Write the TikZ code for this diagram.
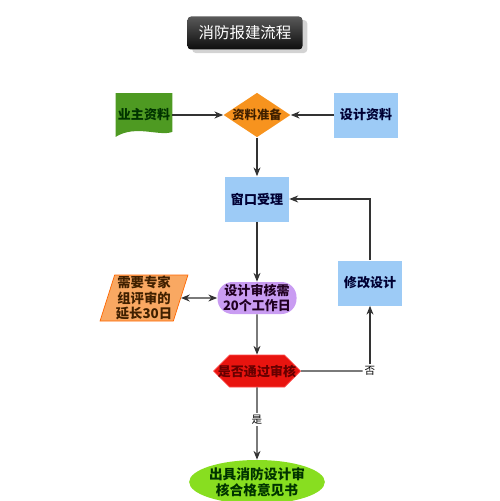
\documentclass[tikz,border=0pt]{standalone}
\usepackage{fontspec}
\setmainfont{Noto Sans CJK SC}
\usepackage{tikz}
\usetikzlibrary{arrows.meta,positioning,shapes.geometric,shapes.symbols,shadows}

\definecolor{linegray}{HTML}{333333}
\definecolor{docgreen}{HTML}{4E9A22}
\definecolor{preporange}{HTML}{F7931E}
\definecolor{boxblue}{HTML}{9DCBF6}
\definecolor{reviewpurple}{HTML}{C99CF2}
\definecolor{slantorange}{HTML}{F9A862}
\definecolor{hexred}{HTML}{E8140F}
\definecolor{okgreen}{HTML}{88DE20}

\begin{document}
\begin{tikzpicture}[node distance=2cm,on grid,
    font=\fontsize{7.4}{9}\selectfont\bfseries,
    >={Stealth[length=5pt,width=4pt]}]
  \tikzstyle{every node}=[align=center]
  \tikzstyle{bluebox}=[rectangle,fill=boxblue,text=black!80!blue,
                       minimum width=1.28cm,minimum height=0.9cm]
  \tikzstyle{flow}=[draw=linegray,line width=0.7pt]

  \useasboundingbox (0,0) rectangle (10,-10.02);

  \node[rounded corners=2pt,top color=black!65,bottom color=black!95,
        drop shadow={opacity=0.35,shadow yshift=-2pt},text=white,
        minimum width=2.3cm,minimum height=0.66cm,
        font=\fontsize{8.8}{10}\selectfont] (title) at (4.9,-0.66) {消防报建流程};

  \node[diamond,fill=preporange,text=black!75!orange,inner sep=0pt,aspect=1.5,
        font=\fontsize{7}{8}\selectfont\bfseries] (prep) at (5.14,-2.3) {资料准备};
  % document shape drawn behind its text
  \node[minimum width=1.12cm,minimum height=0.86cm] (owner) [left=2.26cm of prep] {};
  \fill[docgreen] (owner.north west) -- (owner.north east) -- ([yshift=0.1cm]owner.south east)
     .. controls +(-0.25,-0.1) and +(0.4,0.25) .. (owner.south west) -- cycle;
  \node[text=black!80!green] at (owner.center) {业主资料};
  \node[bluebox] (design) [right=2.18cm of prep] {设计资料};
  \node[bluebox] (window) [below=1.68cm of prep] {窗口受理};
  \node[rectangle,rounded corners=0.3cm,fill=reviewpurple,text=black!75!violet,
        minimum width=1.58cm,minimum height=0.64cm,inner sep=1pt] (review)
        [below=1.98cm of window] {设计审核需\\20个工作日};
  \node[trapezium,trapezium stretches=true,trapezium left angle=72,trapezium right angle=108,
        fill=slantorange,draw=orange!80!red,text=black!75!orange,
        minimum width=1.76cm,minimum height=0.92cm,inner sep=0pt,
        font=\fontsize{7.6}{8.6}\selectfont\bfseries] (expert)
        [left=2.26cm of review] {需要专家\\组评审的\\延长30日};
  \node[bluebox] (modify) at (7.4,-5.66) {修改设计};
  \node[signal,signal to=west and east,fill=hexred,draw=red!70,text=black!60!red,
        minimum width=1.74cm,minimum height=0.64cm,inner ysep=1pt,inner xsep=-7pt] (check)
        [below=1.46cm of review] {是否通过审核};
  \node[ellipse,fill=okgreen,text=black!80!green,minimum width=1.88cm,
        minimum height=0.88cm,inner sep=0pt,
        font=\fontsize{7.8}{9.4}\selectfont\bfseries] (result)
        [below=2.22cm of check] {出具消防设计审\\核合格意见书};
  \node[fill=white,inner sep=1pt,font=\fontsize{6}{7}\selectfont] (no) at (modify |- check) {否};

  \draw[flow,->] (owner) -- (prep);
  \draw[flow,->] (design) -- (prep);
  \draw[flow,->] (prep) -- (window);
  \draw[flow,->] (window) -- (review);
  \draw[flow,<->] (expert) -- (review);
  \draw[flow,->] (review) -- (check);
  \draw[flow] (check) -- (no);
  \draw[flow,->] (no) -- (modify);
  \draw[flow,->] (modify) |- (window);
  \draw[flow,->] (check) -- node[fill=white,inner sep=1pt,font=\fontsize{6}{7}\selectfont,pos=0.45] {是} (result);
\end{tikzpicture}
\end{document}
